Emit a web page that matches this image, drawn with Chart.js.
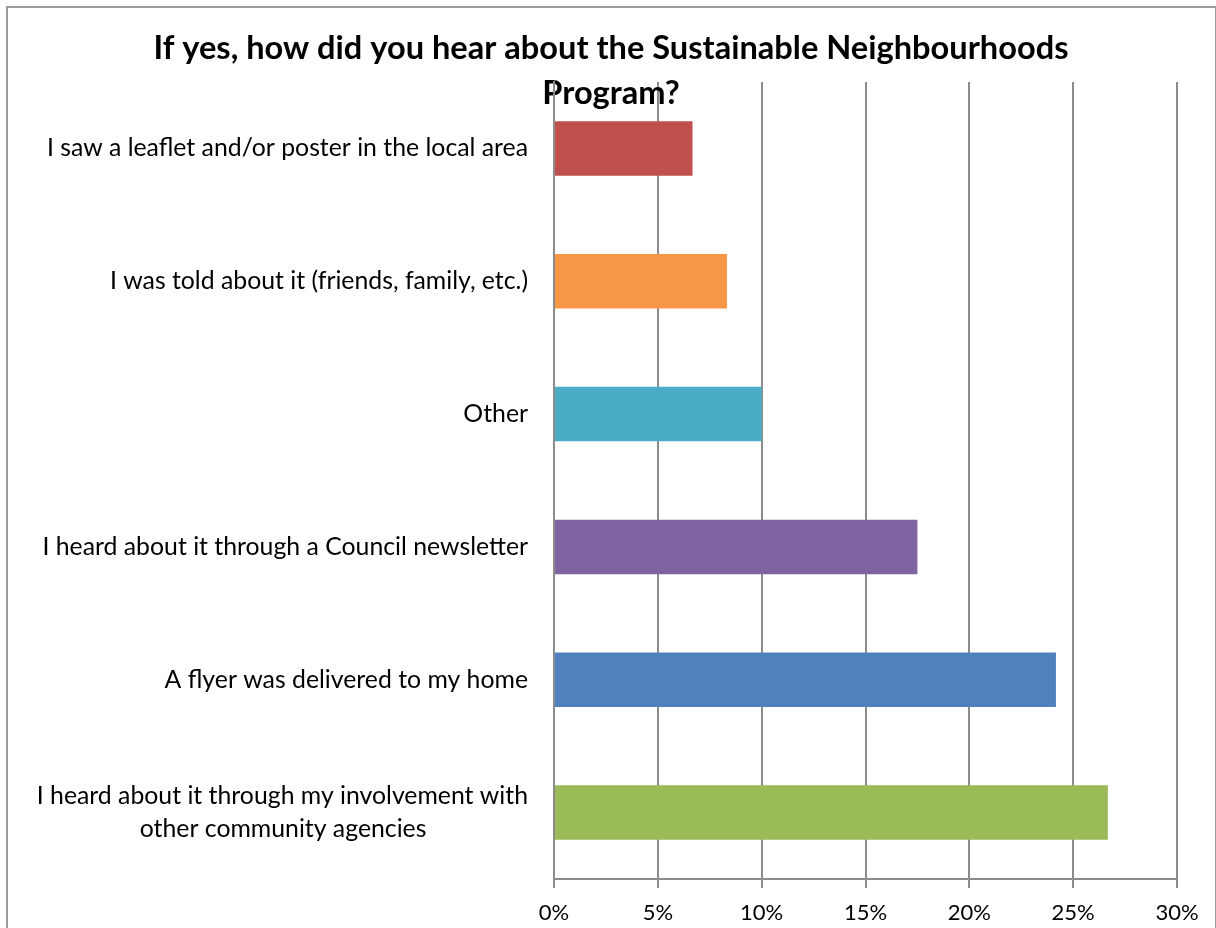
<!DOCTYPE html>
<html>
<head>
<meta charset="utf-8">
<script src="https://cdn.jsdelivr.net/npm/chart.js@4.4.1/dist/chart.umd.min.js"></script>
<style>
  html, body { margin: 0; padding: 0; background: #fff; }
  .wrap { position: relative; width: 1216px; height: 928px; overflow: hidden; }
  .frame { position: absolute; left: 6px; top: 6px; width: 1207px; height: 940px; border: 2px solid #9a9a9a; pointer-events: none; }
</style>
</head>
<body>
<div class="wrap">
  <canvas id="barChart"></canvas>
  <div class="frame"></div>
</div>
<script>
const categories = [
  "I saw a leaflet and/or poster in the local area",
  "I was told about it (friends, family, etc.)",
  "Other",
  "I heard about it through a Council newsletter",
  "A flyer was delivered to my home",
  ["I heard about it through my involvement with", "other community agencies"]
];
const percentages = [6.67, 8.33, 10, 17.5, 24.17, 26.67];
const barColors = ["#C0504D", "#F79646", "#4BACC6", "#8064A2", "#4F81BD", "#9BBB59"];
const xTicks = [0, 5, 10, 15, 20, 25, 30];
const titleLines = ["If yes, how did you hear about the Sustainable Neighbourhoods", "Program?"];

const FONT = "Lato";
const labelFont = { family: FONT, size: 24.8, lineHeight: 1.3 };
const tickFont = { family: FONT, size: 22 };

// second line of a 2-line label should look centred under the first,
// so pad it with trailing spaces (labels are drawn right aligned)
const measure = document.createElement("canvas").getContext("2d");
measure.font = labelFont.size + "px " + FONT;
function centreLines(label) {
  if (!Array.isArray(label)) return label;
  const w0 = measure.measureText(label[0]).width;
  const sp = measure.measureText(" ").width;
  return label.map((line, i) => {
    if (i === 0) return line;
    const gap = (w0 - measure.measureText(line).width) / 2;
    return line + " ".repeat(Math.max(0, Math.round(gap / sp)));
  });
}

document.addEventListener("DOMContentLoaded", function() {
  new Chart(document.getElementById("barChart"), {
    type: "bar",
    data: {
      labels: categories.map(centreLines),
      datasets: [{
        data: percentages,
        backgroundColor: barColors,
        categoryPercentage: 1,
        barPercentage: 0.41
      }]
    },
    options: {
      indexAxis: "y",
      responsive: true,
      maintainAspectRatio: false,
      animation: false,
      layout: { padding: { left: 6, right: 0, top: 0, bottom: 0 } },
      plugins: {
        legend: { display: false },
        tooltip: { enabled: false },
        title: {
          display: true,
          text: titleLines,
          color: "#000",
          font: { family: FONT, size: 32.6, weight: "bold", lineHeight: 1.38 },
          padding: { top: 26, bottom: -34 }
        }
      },
      scales: {
        x: {
          min: 0,
          max: 30,
          z: -1,
          afterBuildTicks: (s) => { s.ticks = xTicks.map(v => ({ value: v })); },
          // keep the plot's right edge at 1177 while the title stays centred on the frame
          afterFit: (s) => { s.height = 49; s.paddingRight = 39; },
          grid: { color: "#8c8c8c", lineWidth: 2, tickLength: 9, drawTicks: true },
          border: { color: "#8c8c8c", width: 2 },
          ticks: {
            color: "#000",
            font: tickFont,
            padding: 12,
            maxRotation: 0,
            callback: (v) => v + "%"
          }
        },
        y: {
          z: -1,
          afterFit: (s) => { s.width = 548; },
          grid: { display: false, drawTicks: false },
          border: { color: "#8c8c8c", width: 2 },
          ticks: { color: "#000", font: labelFont, padding: 26 }
        }
      }
    }
  });
});
</script>
</body>
</html>
